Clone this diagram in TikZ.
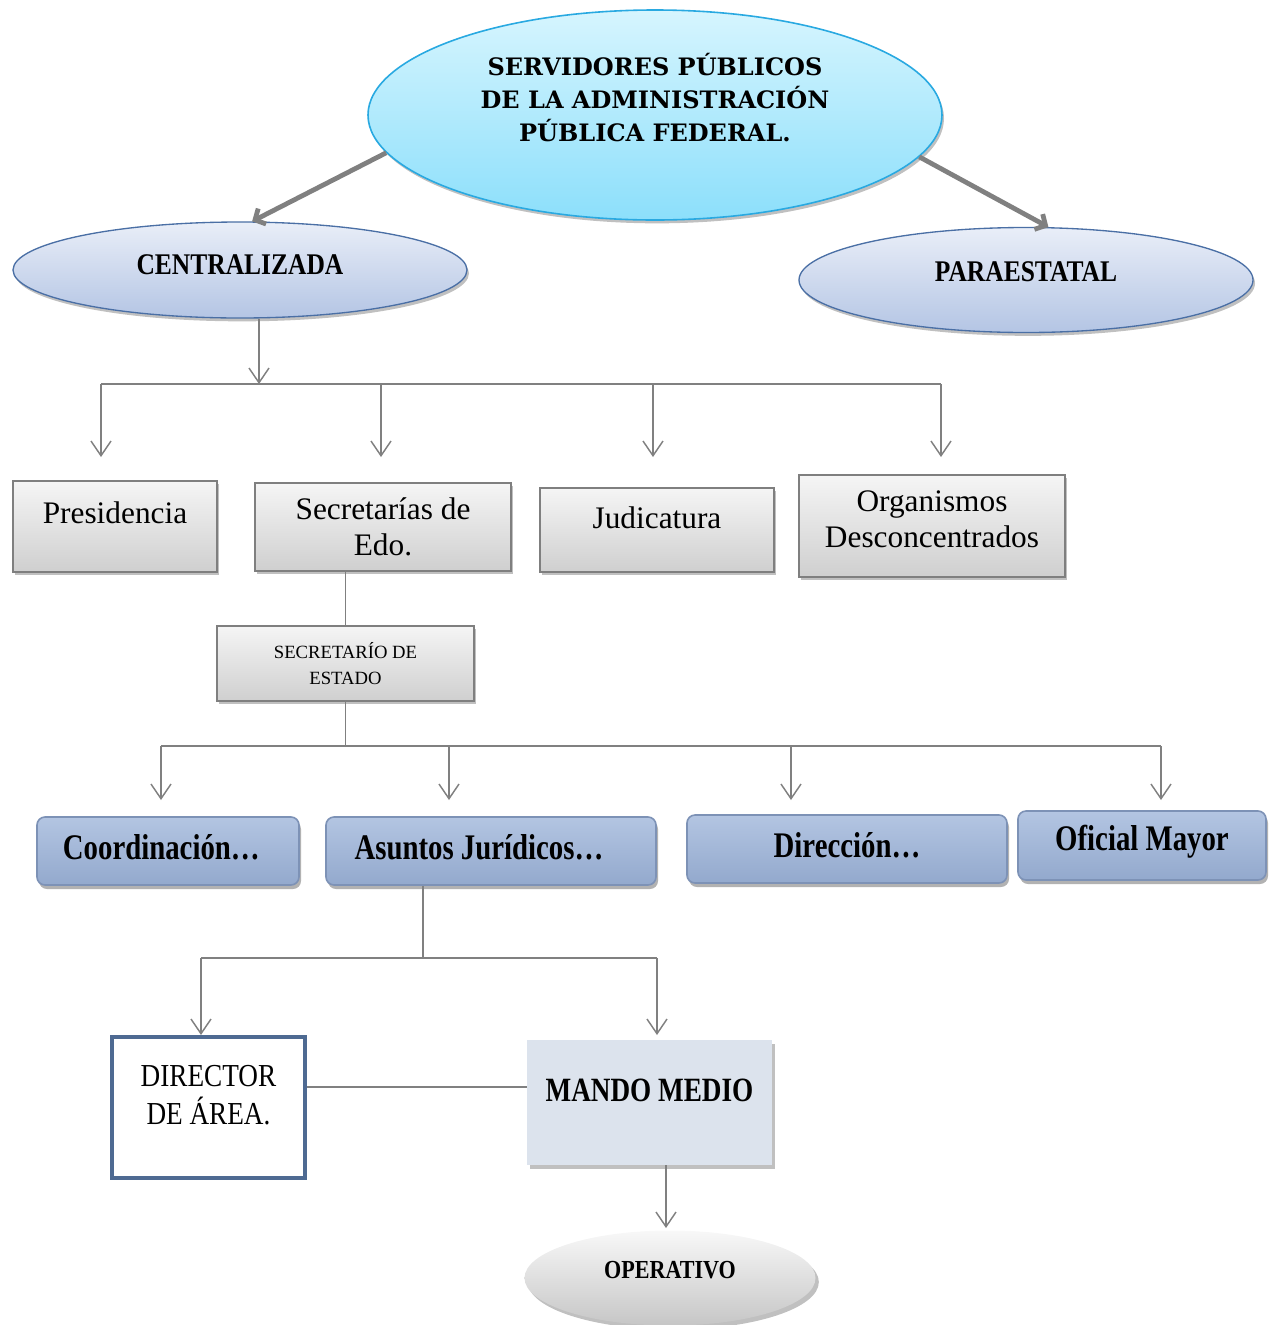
\documentclass[tikz,border=0pt]{standalone}
\usepackage{fontspec}
\setmainfont{Liberation Serif}
\newfontfamily\titlefont{DejaVu Serif}
\newfontfamily\condA[FakeStretch=0.85]{Liberation Serif}
\newfontfamily\condB[FakeStretch=0.8]{Liberation Serif}
\usetikzlibrary{arrows.meta,shadows,shapes.geometric}
\newcommand\upbox[2]{\raisebox{#1}[\height][\depth]{#2}}
\newcommand\twol[2]{\begin{tabular}{@{}c@{}}#1\\#2\end{tabular}}
\definecolor{linegray}{HTML}{808080}
\definecolor{cyanTop}{HTML}{D6F5FE}
\definecolor{cyanBot}{HTML}{8CDFFB}
\definecolor{cyanEdge}{HTML}{29A9E1}
\definecolor{blTop}{HTML}{E9EEF8}
\definecolor{blBot}{HTML}{B4C5E4}
\definecolor{blEdge}{HTML}{4A6FA5}
\definecolor{gTop}{HTML}{F5F5F5}
\definecolor{gBot}{HTML}{CFCFCF}
\definecolor{gEdge}{HTML}{7F7F7F}
\definecolor{rTop}{HTML}{B3C5E2}
\definecolor{rBot}{HTML}{93A9CD}
\definecolor{rEdge}{HTML}{7D92B6}
\definecolor{dirEdge}{HTML}{4E6A92}
\definecolor{mmFill}{HTML}{DCE3ED}
\definecolor{opTop}{HTML}{F8F8F8}
\definecolor{opBot}{HTML}{C6C6C6}
\tikzset{
  conn/.style={draw=linegray, line width=1.1pt},
  arr/.style={conn, -{Straight Barb[length=11pt,width=15pt]}},
  bigarr/.style={draw=linegray, line width=3.6pt, -{Straight Barb[length=6pt,width=13pt]}},
  shad/.style={drop shadow={shadow xshift=1.5pt, shadow yshift=-2.5pt, opacity=0.45, fill=black!55}},
  grbox/.style={rectangle, draw=gEdge, line width=0.8pt, top color=gTop, bottom color=gBot, shad,
    font=\fontsize{23.5}{27}\selectfont, align=center, inner sep=0pt},
  rbox/.style={rectangle, rounded corners=6pt, draw=rEdge, line width=1.2pt, top color=rTop, bottom color=rBot,
    drop shadow={shadow xshift=1.5pt, shadow yshift=-3pt, opacity=0.5, fill=black!60},
    font=\condB\bfseries\fontsize{27}{31}\selectfont, inner sep=0pt},
  blell/.style={ellipse, draw=blEdge, line width=1pt, top color=blTop, bottom color=blBot, shad,
    font=\condA\bfseries\fontsize{22.5}{26}\selectfont, inner sep=0pt},
}
\begin{document}
\begin{tikzpicture}[x=0.75pt, y=-0.75pt]
\useasboundingbox (0,0) rectangle (1268,1325);

% top ellipse
\node[ellipse, draw=cyanEdge, line width=1.2pt, top color=cyanTop, bottom color=cyanBot, shad,
  minimum width=430.5pt, minimum height=157.5pt, inner sep=0pt,
  font=\titlefont\bfseries\fontsize{18}{24.75}\selectfont] (top) at (655,115)
  {\upbox{10pt}{\twol{SERVIDORES PÚBLICOS}{DE LA ADMINISTRACIÓN\\PÚBLICA FEDERAL.}}};

\node[blell, minimum width=340.5pt, minimum height=72pt] (cent) at (240,270) {\upbox{4pt}{CENTRALIZADA}};
\node[blell, minimum width=340.5pt, minimum height=78.75pt] (para) at (1026,280) {\upbox{6pt}{PARAESTATAL}};

\draw[bigarr] (top.188) -- (cent.76);
\draw[bigarr] (top.351) -- (para.67);

% row 1
\node[grbox, minimum width=153pt, minimum height=68.25pt] (pres) at (115,526.5) {\upbox{10.5pt}{Presidencia}};
\node[grbox, minimum width=192pt, minimum height=66pt] (sec) at (383,527) {Secretarías de\\Edo.};
\node[grbox, minimum width=175.5pt, minimum height=63pt] (jud) at (657,530) {\upbox{9pt}{Judicatura}};
\node[grbox, minimum width=199.5pt, minimum height=76.5pt] (org) at (932,526) {\upbox{3pt}{\twol{Organismos}{Desconcentrados}}};

\coordinate (b1) at (259,384);
\coordinate (d1a) at (101,384);
\coordinate (d1b) at (381,384);
\coordinate (d1c) at (653,384);
\coordinate (d1d) at (941,384);
\draw[arr] (cent.south -| b1) -- (b1);
\draw[conn] (d1a) -- (d1d);
\foreach \c in {d1a,d1b,d1c,d1d} \draw[arr] (\c) -- ++(0,73);

% secretario
\node[grbox, minimum width=192.75pt, minimum height=56.25pt, font=\fontsize{14}{19.5}\selectfont] (se) at (345.5,663.5) {SECRETARÍO DE\\ESTADO};
\draw[conn] (se.north |- sec.south) -- (se.north);

% row 2
\node[rbox, minimum width=196.5pt, minimum height=51pt] (coo) at (168,851) {\upbox{3pt}{\hspace*{-10pt}Coordinación…}};
\node[rbox, minimum width=247.5pt, minimum height=51pt] (asu) at (491,851) {\upbox{3pt}{\hspace*{-18pt}Asuntos Jurídicos…}};
\node[rbox, minimum width=240pt, minimum height=51pt] (dirc) at (847,849) {\upbox{3pt}{Dirección…}};
\node[rbox, minimum width=186pt, minimum height=51.75pt] (ofi) at (1142,845.5) {\upbox{3pt}{Oficial Mayor}};

\coordinate (b2) at (345.5,746);
\coordinate (d2a) at (161,746);
\coordinate (d2b) at (449,746);
\coordinate (d2c) at (791,746);
\coordinate (d2d) at (1161,746);
\draw[conn] (se.south) -- (b2);
\draw[conn] (d2a) -- (d2d);
\foreach \c in {d2a,d2b,d2c,d2d} \draw[arr] (\c) -- ++(0,54);

% row 3
\node[rectangle, draw=dirEdge, line width=3pt, fill=white, minimum width=144.75pt, minimum height=105.75pt,
  inner sep=0pt, font=\condA\fontsize{24}{27}\selectfont] (dir) at (208.5,1107.5) {\upbox{7pt}{\twol{DIRECTOR}{DE ÁREA.}}};
\node[rectangle, fill=mmFill, minimum width=183.75pt, minimum height=93.75pt, inner sep=0pt,
  drop shadow={shadow xshift=2pt, shadow yshift=-3pt, opacity=0.45, fill=black!55},
  font=\condB\bfseries\fontsize{25.5}{30}\selectfont] (mm) at (649.5,1102.5) {\upbox{9pt}{MANDO MEDIO}};

\coordinate (b3) at (423,958);
\coordinate (d3a) at (201,958);
\coordinate (d3b) at (657,958);
\draw[conn] (asu.south -| b3) -- (b3);
\draw[conn] (d3a) -- (d3b);
\foreach \c in {d3a,d3b} \draw[arr] (\c) -- ++(0,77);

\coordinate (h) at (0,1087);
\draw[conn] (dir.east |- h) -- (mm.west |- h);

% operativo
\node[ellipse, top color=opTop, bottom color=opBot, minimum width=218.25pt, minimum height=71.25pt, inner sep=0pt,
  drop shadow={shadow xshift=2.5pt, shadow yshift=-3pt, opacity=0.45, fill=black!55},
  font=\condA\bfseries\fontsize{19.5}{23}\selectfont] (op) at (670,1278) {\upbox{6pt}{OPERATIVO}};
\coordinate (o1) at (666,1165);
\draw[arr] (o1) -- ++(0,63);
\end{tikzpicture}
\end{document}
